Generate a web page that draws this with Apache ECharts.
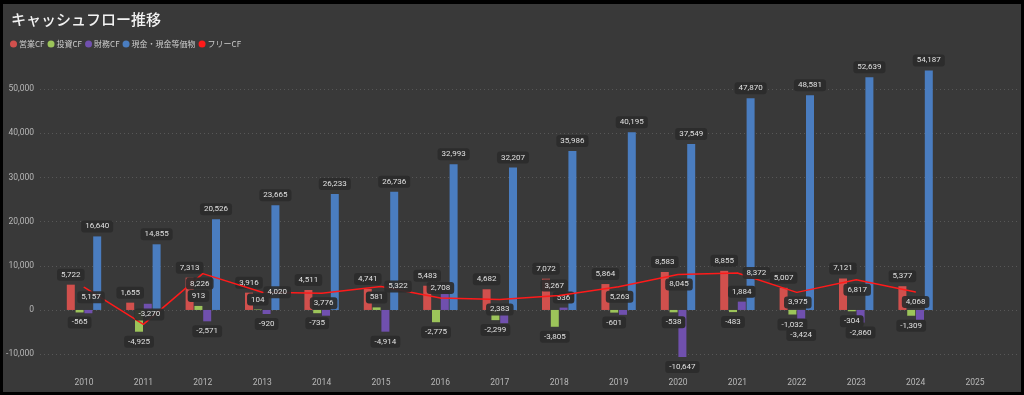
<!DOCTYPE html>
<html><head><meta charset="utf-8">
<script src="https://cdn.jsdelivr.net/npm/echarts/dist/echarts.min.js"></script>
<style>
html,body{margin:0;padding:0;background:#000;width:1024px;height:395px;overflow:hidden}
#c{position:absolute;left:3px;top:4px;width:1018px;height:388px;background:#393939}
</style>
</head><body><div id="c"></div>
<script>
const years = ['2010','2011','2012','2013','2014','2015','2016','2017','2018','2019','2020','2021','2022','2023','2024','2025'];
const operatingCF = [5722,1655,7313,3916,4511,4741,5483,4682,7072,5864,8583,8855,5007,7121,5377,null];
const investingCF = [-565,-4925,913,104,-735,581,-2775,-2299,-3805,-601,-538,-483,-1032,-304,-1309,null];
const financingCF = [-750,1400,-2571,-920,-1300,-4914,3600,-3000,536,-1100,-10647,1884,-3424,-2860,-2300,null];
const cashEquivalents = [16640,14855,20526,23665,26233,26736,32993,32207,35986,40195,37549,47870,48581,52639,54187,null];
const freeCF = [5157,-3270,8226,4020,3776,5322,2708,2383,3267,5263,8045,8372,3975,6817,4068,null];
const financingLabelHidden = ['2010','2011','2014','2016','2017','2019','2024'];
const seriesNames = ['営業CF','投資CF','財務CF','現金・現金等価物','フリーCF'];
const yTickMin = -10000, yTickMax = 50000, yTickStep = 10000;

// label placement (style only): shift of the free-CF value boxes away from overlapping labels
const freeLabelShift = {
  '2010': [7, 10], '2011': [6, -10], '2012': [-3, 10], '2013': [15, 0], '2014': [2, 10],
  '2015': [17, 0], '2016': [0, -10], '2017': [0, 10], '2018': [-5, -10], '2019': [1, 10],
  '2020': [1, 10], '2021': [19, 0], '2022': [1, 10], '2023': [1, 10], '2024': [0, 10]
};

const colors = ['#d1504d','#9cc45a','#7050ae','#4a7dc0','#ff1a1a'];
const fmt = v => (v == null ? '' : Number(v).toLocaleString('en-US'));
const labelBase = {
  show: true, color: '#e0e0e0', fontSize: 8, fontFamily: 'Roboto, sans-serif',
  backgroundColor: '#2c2c2c', padding: [2, 4], borderRadius: 3, distance: 4,
  formatter: p => fmt(p.value)
};
function signedData(arr, hidden) {
  return arr.map((v, i) => {
    if (v == null) return null;
    const item = { value: v, label: { position: v < 0 ? 'bottom' : 'top' } };
    if (hidden && hidden.indexOf(years[i]) >= 0) item.label.show = false;
    return item;
  });
}
const freeData = freeCF.map((v, i) => {
  if (v == null) return null;
  const s = freeLabelShift[years[i]] || [0, 0];
  return { value: v, label: { offset: s } };
});

const chart = echarts.init(document.getElementById('c'), null, { renderer: 'canvas' });
chart.setOption({
  animation: false,
  backgroundColor: '#393939',
  color: colors,
  title: {
    text: 'キャッシュフロー推移', left: 3, top: 3,
    textStyle: { color: '#f2f2f2', fontSize: 15, fontWeight: 500, fontFamily: '"Noto Sans CJK JP", sans-serif' }
  },
  legend: {
    data: seriesNames, left: 2, top: 31, icon: 'circle', itemWidth: 7, itemHeight: 7, itemGap: 3,
    textStyle: { color: '#cccccc', fontSize: 8, fontFamily: '"Noto Sans CJK JP", sans-serif', padding: [0, 0, 0, -3] }
  },
  grid: [
    { left: 51.3, right: 16.3, top: 49.6, bottom: 29 },
    { left: 37, right: 4, top: 85, bottom: 37.8 }
  ],
  xAxis: [
    { type: 'category', data: years, gridIndex: 0,
      axisLine: { show: false }, axisTick: { show: false },
      axisLabel: { color: '#b8b8b8', fontSize: 8.5, margin: 15, fontFamily: 'Roboto, sans-serif' } },
    { type: 'category', data: years, gridIndex: 1, show: false }
  ],
  yAxis: [
    { type: 'value', gridIndex: 0, min: -12000, max: 58000, show: false, splitLine: { show: false } },
    { type: 'value', gridIndex: 1, min: yTickMin, max: yTickMax, interval: yTickStep,
      axisLine: { show: false }, axisTick: { show: false },
      axisLabel: { color: '#b8b8b8', fontSize: 8.5, margin: 6, fontFamily: 'Roboto, sans-serif', formatter: v => fmt(v) },
      splitLine: { show: true, lineStyle: { color: '#575757', type: [1, 3], width: 1 } } }
  ],
  series: [
    { name: seriesNames[0], type: 'bar', xAxisIndex: 0, yAxisIndex: 0, barWidth: 8, barGap: '10%',
      data: signedData(operatingCF), label: labelBase, z: 2 },
    { name: seriesNames[1], type: 'bar', xAxisIndex: 0, yAxisIndex: 0, barWidth: 8, barGap: '10%',
      data: signedData(investingCF), label: labelBase, z: 2 },
    { name: seriesNames[2], type: 'bar', xAxisIndex: 0, yAxisIndex: 0, barWidth: 8, barGap: '10%',
      data: signedData(financingCF, financingLabelHidden), label: labelBase, z: 2 },
    { name: seriesNames[3], type: 'bar', xAxisIndex: 0, yAxisIndex: 0, barWidth: 8, barGap: '10%',
      data: signedData(cashEquivalents), label: labelBase, z: 2 },
    { name: seriesNames[4], type: 'line', xAxisIndex: 0, yAxisIndex: 0, data: freeData,
      symbol: 'circle', symbolSize: 1, showSymbol: true, itemStyle: { color: '#ff1a1a' },
      lineStyle: { color: '#ff1a1a', width: 1.5 }, z: 5,
      label: Object.assign({}, labelBase, { position: 'inside', backgroundColor: 'rgba(44,44,44,0.92)' }) }
  ]
});
</script></body></html>
